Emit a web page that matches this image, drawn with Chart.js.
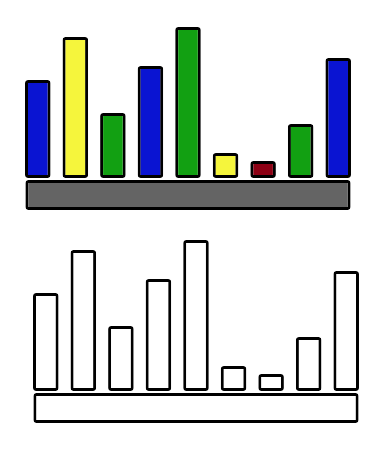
<!DOCTYPE html>
<html>
<head>
<meta charset="utf-8">
<script src="https://cdn.jsdelivr.net/npm/chart.js@4/dist/chart.umd.min.js"></script>
<style>
html,body{margin:0;padding:0;background:#fff;width:384px;height:450px;overflow:hidden;}
.box{position:absolute;}
#b1{left:19px;top:19px;width:338px;height:195px;}
#b2{left:27px;top:232px;width:338px;height:195px;}
</style>
</head>
<body>
<div class="box" id="b1"><canvas id="c1"></canvas></div>
<div class="box" id="b2"><canvas id="c2"></canvas></div>
<script>
const categories = ["1","2","3","4","5","6","7","8","9"];
const values = [98, 141, 65, 112, 151, 25, 17, 54, 120];
const baseLabel = ["base"];
const baseRange = [[-2, -32]];
const barColors = ["#0a14d2","#f5f53c","#12a012","#0a14d2","#12a012","#f5f53c","#8c0014","#12a012","#0a14d2"];
const baseColor = "#646464";

function makeChart(id, filled) {
  return new Chart(document.getElementById(id), {
    type: 'bar',
    data: {
      labels: categories,
      datasets: [
        {
          data: values,
          xAxisID: 'x',
          grouped: false,
          backgroundColor: filled ? barColors : '#ffffff',
          borderColor: '#000000',
          borderWidth: 3,
          borderRadius: 3,
          borderSkipped: false,
          barPercentage: 0.68,
          categoryPercentage: 1
        },
        {
          data: baseRange,
          xAxisID: 'x2',
          grouped: false,
          backgroundColor: filled ? baseColor : '#ffffff',
          borderColor: '#000000',
          borderWidth: 3,
          borderRadius: 3,
          borderSkipped: false,
          barPercentage: 0.962,
          categoryPercentage: 1
        }
      ]
    },
    options: {
      responsive: true,
      maintainAspectRatio: false,
      animation: false,
      layout: { padding: 0 },
      plugins: { legend: { display: false }, tooltip: { enabled: false } },
      scales: {
        x: { display: false, labels: categories, grid: { display: false } },
        x2: { display: false, labels: baseLabel, grid: { display: false } },
        y: { display: false, min: -36, max: 159, grid: { display: false } }
      }
    }
  });
}
makeChart('c1', true);
makeChart('c2', false);
</script>
</body>
</html>
